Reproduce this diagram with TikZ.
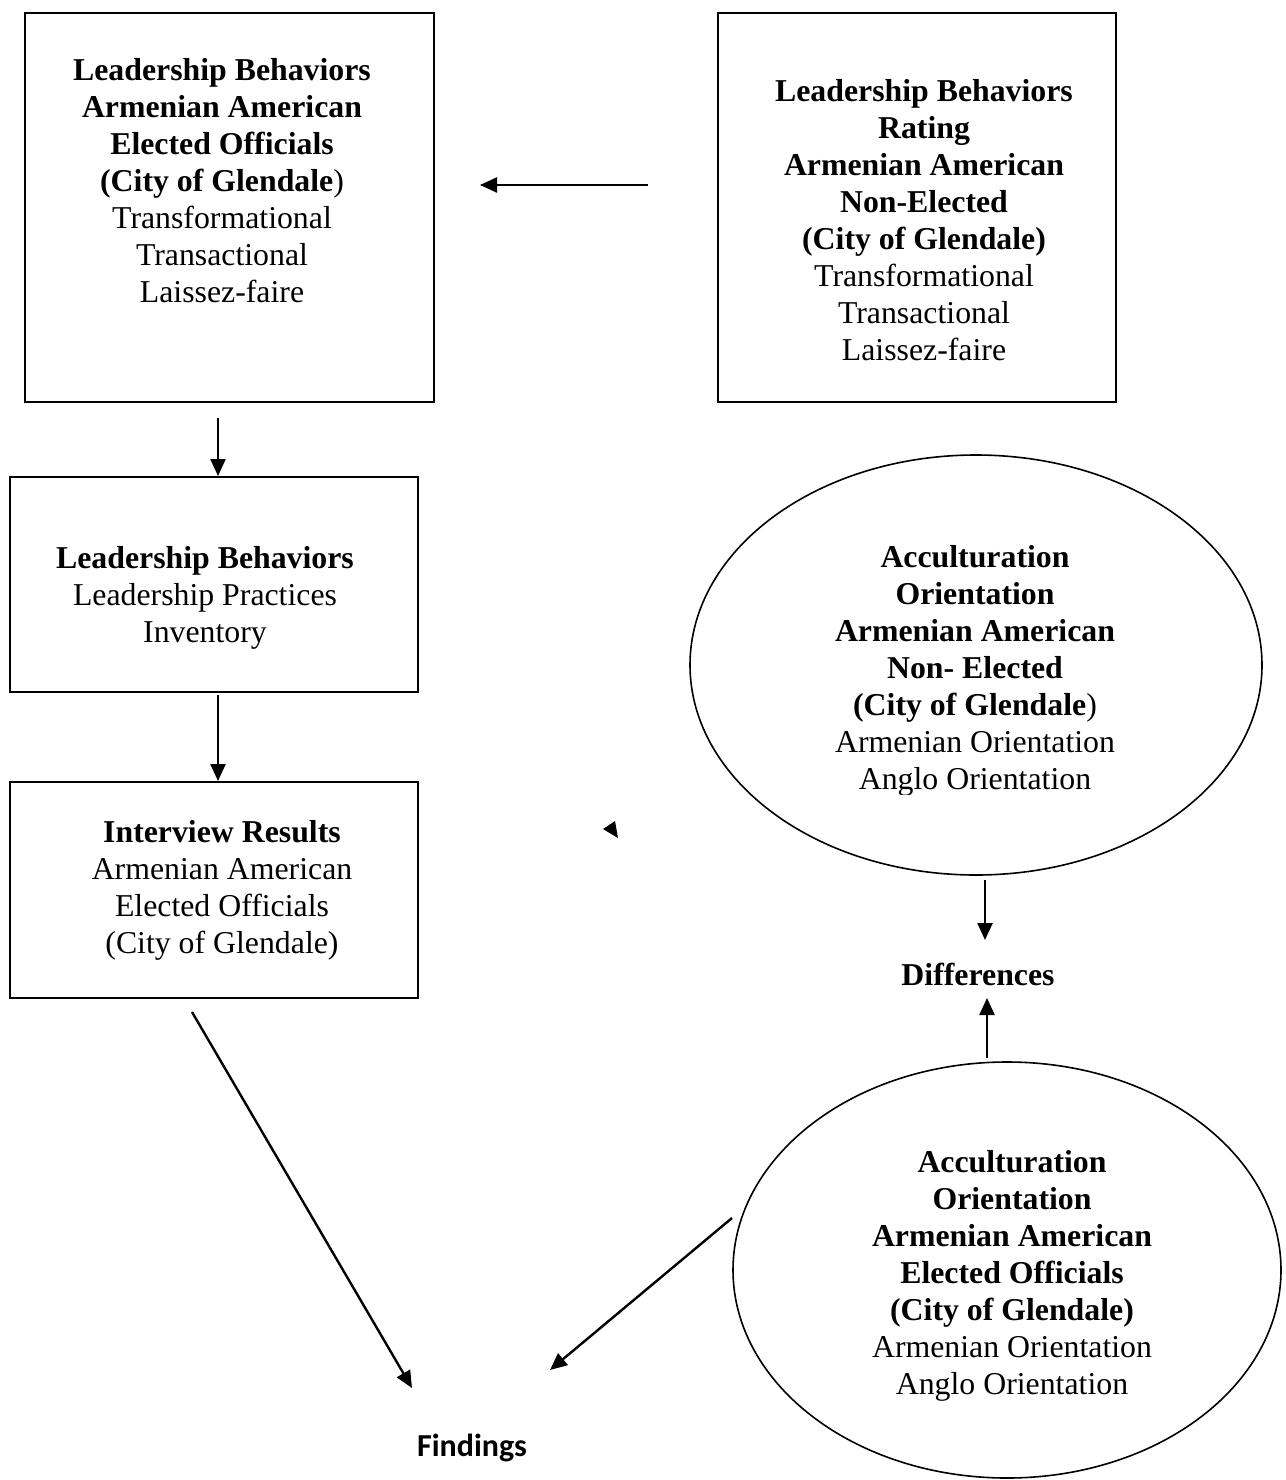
\documentclass[tikz,border=0pt]{standalone}
\usepackage{fontspec}
\setmainfont{Liberation Serif}
\newfontfamily\calibrifont{Carlito}
\usetikzlibrary{arrows.meta,shapes.geometric}
\begin{document}
\begin{tikzpicture}[x=1pt,y=-1pt,
  box/.style={draw,line width=2pt,inner sep=0pt,outer sep=0pt},
  ell/.style={draw,ellipse,line width=1.6pt,inner sep=0pt,outer sep=0pt},
  txt/.style={align=center,inner sep=0pt,font=\fontsize{31.8}{37}\selectfont},
  arr/.style={line width=2.4pt,-{Triangle[length=17pt,width=15pt]}}]
\useasboundingbox (0,0) rectangle (1285,1480);
% boxes
\node[box,minimum width=409pt,minimum height=389pt] (b1) at (229.5,207.5) {};
\node[box,minimum width=398pt,minimum height=389pt] (b2) at (917,207.5) {};
\node[box,minimum width=408pt,minimum height=215pt] (b3) at (214,584.5) {};
\node[box,minimum width=408pt,minimum height=216pt] (b4) at (214,890) {};
\node[ell,minimum width=572pt,minimum height=420pt] (e1) at (976,665) {};
\node[ell,minimum width=548pt,minimum height=416pt] (e2) at (1007,1270) {};
% texts
\node[txt] (t1) at (222,181) {\textbf{Leadership Behaviors}\\\textbf{Armenian American}\\\textbf{Elected Officials}\\\textbf{(City of Glendale})\\Transformational\\Transactional\\Laissez-faire};
\node[txt] (t2) at (924,220) {\textbf{Leadership Behaviors}\\\textbf{Rating}\\\textbf{Armenian American}\\\textbf{Non-Elected}\\\textbf{(City of Glendale)}\\Transformational\\Transactional\\Laissez-faire};
\node[txt] (t3) at (205,598) {\textbf{Leadership Behaviors}\\Leadership Practices\\Inventory};
\node[txt] (t4) at (222,890) {\textbf{Interview Results}\\Armenian American\\Elected Officials\\(City of Glendale)};
\begin{scope}
\clip (690,455) rectangle (1262,794);
\node[txt] (t5) at (975,671) {\textbf{Acculturation}\\\textbf{Orientation}\\\textbf{Armenian American}\\\textbf{Non- Elected}\\\textbf{(City of Glendale})\\Armenian Orientation\\Anglo Orientation};
\end{scope}
\node[txt] (diff) at (978,974) {\textbf{Differences}};
\node[txt] (t6) at (1012,1276) {\textbf{Acculturation}\\\textbf{Orientation}\\\textbf{Armenian American}\\\textbf{Elected Officials}\\\textbf{(City of Glendale)}\\Armenian Orientation\\Anglo Orientation};
\node[inner sep=0pt,font=\calibrifont\bfseries\fontsize{32}{37}\selectfont] (find) at (472,1448) {Findings};
% connector ends
\coordinate (a1s) at (648,185); \coordinate (a1e) at (480,185);
\coordinate (a2s) at (218,418); \coordinate (a2e) at (218,476);
\coordinate (a3s) at (218,695); \coordinate (a3e) at (218,781);
\coordinate (a4s) at (985,880); \coordinate (a4e) at (985,940);
\coordinate (a5s) at (987,1058); \coordinate (a5e) at (987,998);
\coordinate (a6s) at (192,1012); \coordinate (a6e) at (412,1388);
\coordinate (a7s) at (732,1218); \coordinate (a7e) at (550,1370);
\coordinate (h1) at (603,829); \coordinate (h2) at (615,821); \coordinate (h3) at (618,838);
\draw[arr] (a1s) -- (a1e);
\draw[arr] (a2s) -- (a2e);
\draw[arr] (a3s) -- (a3e);
\draw[arr] (a4s) -- (a4e);
\draw[arr] (a5s) -- (a5e);
\draw[arr] (a6s) -- (a6e);
\draw[arr] (a7s) -- (a7e);
\fill (h1) -- (h2) -- (h3) -- cycle;
\end{tikzpicture}
\end{document}
